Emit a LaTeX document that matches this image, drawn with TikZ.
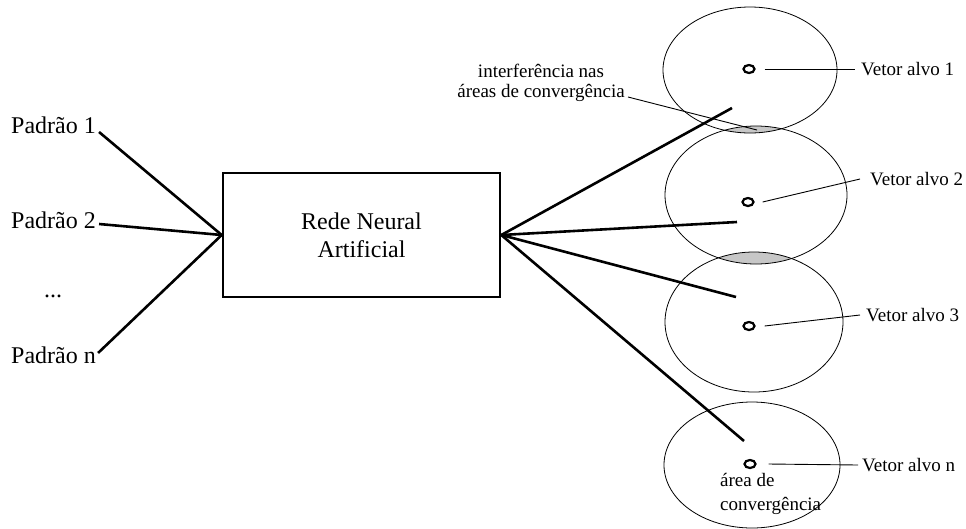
\documentclass[tikz,border=0pt]{standalone}
\usepackage{fontspec}
\setmainfont{Liberation Serif}
\usetikzlibrary{shapes.geometric}
\begin{document}
\begin{tikzpicture}[x=1pt,y=-1pt,
  bigtext/.style={inner sep=0pt,font=\fontsize{24}{28}\selectfont},
  smalltext/.style={inner sep=0pt,font=\fontsize{19}{21}\selectfont},
  thickline/.style={line width=2.6pt},
  leader/.style={line width=0.9pt},
  zone/.style={line width=0.8pt},
  lens/.style={fill=black!22},
  target/.style={draw,ellipse,line width=2.2pt,minimum width=11pt,minimum height=8pt,inner sep=0pt},
  netbox/.style={draw,line width=2.6pt,minimum width=277pt,minimum height=124pt,align=center,
    font=\fontsize{24}{28}\selectfont},
]
\useasboundingbox[fill=white] (0,0) rectangle (966,528);

% convergence zones
\coordinate (c1) at (750,70);
\coordinate (c2) at (756,195);
\coordinate (c3) at (754,322);
\coordinate (c4) at (752,465);

% overlapping parts of neighbouring zones
\begin{scope}
  \clip (c1) ellipse [x radius=87,y radius=63];
  \fill[lens] (c2) ellipse [x radius=91,y radius=69];
\end{scope}
\begin{scope}
  \clip (c2) ellipse [x radius=91,y radius=69];
  \fill[lens] (c3) ellipse [x radius=89,y radius=70];
\end{scope}

\draw[zone] (c1) ellipse [x radius=87,y radius=63];
\draw[zone] (c2) ellipse [x radius=91,y radius=69];
\draw[zone] (c3) ellipse [x radius=89,y radius=70];
\draw[zone] (c4) ellipse [x radius=88,y radius=63];

% network
\node[netbox] (rna) at (361.5,235) {Rede Neural\\Artificial};

% input patterns
\node[bigtext,anchor=base west] (p1) at (11,133) {Padrão 1};
\node[bigtext,anchor=base west] (p2) at (11,228) {Padrão 2};
\node[bigtext,anchor=base] (pd) at (53,297) {...};
\node[bigtext,anchor=base west] (pn) at (11,363) {Padrão n};

\draw[thickline] ([shift={(3,-1)}]p1.base east) -- (rna.west);
\draw[thickline] ([shift={(3,-4)}]p2.base east) -- (rna.west);
\draw[thickline] ([shift={(2,-10)}]pn.base east) -- (rna.west);

% network outputs
\coordinate (o1) at (732,108);
\coordinate (o2) at (737,222);
\coordinate (o3) at (736,297);
\coordinate (o4) at (744,441);
\draw[thickline] (rna.east) -- (o1);
\draw[thickline] (rna.east) -- (o2);
\draw[thickline] (rna.east) -- (o3);
\draw[thickline] (rna.east) -- (o4);

% target vectors
\node[target] (t1) at (749,69) {};
\node[target] (t2) at (748,202) {};
\node[target] (t3) at (749,326) {};
\node[target] (t4) at (750,464) {};

\node[smalltext,anchor=west] (v1) at (861,69) {Vetor alvo 1};
\node[smalltext,anchor=west] (v2) at (870,179) {Vetor alvo 2};
\node[smalltext,anchor=west] (v3) at (866,315) {Vetor alvo 3};
\node[smalltext,anchor=west] (vn) at (862,465) {Vetor alvo n};

\draw[leader] ([xshift=9pt]t1.east) -- ([xshift=-6pt]v1.west);
\draw[leader] ([xshift=8pt]t2.east) -- ([xshift=-10pt]v2.west);
\draw[leader] ([xshift=9pt]t3.east) -- ([xshift=-6pt]v3.west);
\draw[leader] ([xshift=12pt]t4.east) -- ([xshift=-4pt]vn.west);

% annotations
\node[smalltext,align=center,anchor=north,font=\fontsize{19}{20}\selectfont] (intf) at (541,64)
  {interferência nas\\áreas de convergência};
\coordinate (intfend) at (628,97);
\coordinate (lensmid) at (757,130);
\draw[leader] (intfend) -- (lensmid);

\node[smalltext,align=left,anchor=north west,font=\fontsize{19}{24}\selectfont] (conv) at (720,473)
  {área de\\convergência};
\end{tikzpicture}
\end{document}
